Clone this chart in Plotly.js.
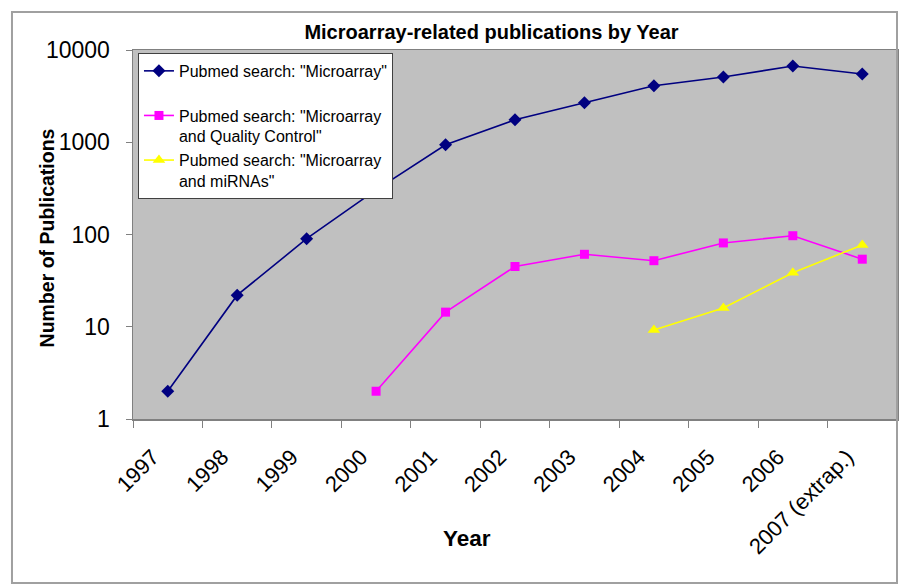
<!DOCTYPE html>
<html>
<head>
<meta charset="utf-8">
<script src="https://cdn.plot.ly/plotly-3.0.1.min.js"></script>
<style>
  html, body { margin: 0; padding: 0; background: #ffffff; }
  #chart { width: 906px; height: 588px; }
</style>
</head>
<body>
<div id="chart"></div>
<script>
// ---- Data ----
const years = ['1997', '1998', '1999', '2000', '2001', '2002', '2003', '2004', '2005', '2006', '2007 (extrap.)'];
const microarray = [2, 22, 90, 305, 940, 1750, 2680, 4100, 5100, 6700, 5500];
const qcYears = ['2000', '2001', '2002', '2003', '2004', '2005', '2006', '2007 (extrap.)'];
const qualityControl = [2, 14.4, 45, 61, 52, 81, 97, 54];
const mirnaYears = ['2004', '2005', '2006', '2007 (extrap.)'];
const mirnas = [9.2, 16, 38.5, 77];
const yTickVals = [1, 10, 100, 1000, 10000];
const yTickText = ['1', '10', '100', '1000', '10000'];

const FONT = 'Arial, "Liberation Sans", sans-serif';

const traces = [
  {
    x: years, y: microarray, type: 'scatter', mode: 'lines+markers',
    name: 'Pubmed search: "Microarray"<br>\u00a0',
    line: { color: '#000080', width: 1.6 },
    marker: { symbol: 'diamond', size: 10, color: '#000080' }
  },
  {
    x: qcYears, y: qualityControl, type: 'scatter', mode: 'lines+markers',
    name: 'Pubmed search: "Microarray<br>and Quality Control"',
    line: { color: '#FF00FF', width: 1.6 },
    marker: { symbol: 'square', size: 9, color: '#FF00FF' }
  },
  {
    x: mirnaYears, y: mirnas, type: 'scatter', mode: 'lines+markers',
    name: 'Pubmed search: "Microarray<br>and miRNAs"',
    line: { color: '#FFFF00', width: 1.6 },
    marker: { symbol: 'triangle-up', size: 11, color: '#FFFF00' }
  }
];

const layout = {
  width: 906, height: 588,
  margin: { l: 133, r: 9, t: 50, b: 169 },
  paper_bgcolor: '#ffffff',
  plot_bgcolor: '#C0C0C0',
  font: { family: FONT, color: '#000000' },
  title: {
    text: 'Microarray-related publications by Year',
    font: { family: FONT, size: 20, weight: 'bold', color: '#000000' },
    x: 0.5425, xanchor: 'center', xref: 'container',
    y: 0.946, yanchor: 'middle', yref: 'container'
  },
  xaxis: {
    type: 'category',
    range: [-0.5, 10.5],
    tickson: 'boundaries',
    ticks: 'outside', ticklen: 7, tickcolor: '#808080', tickwidth: 1,
    tickangle: -45,
    tickfont: { family: FONT, size: 22, color: '#000000' },
    ticklabelstandoff: 15,
    ticklabelshift: -15,
    showgrid: false, zeroline: false,
    showline: true, linecolor: '#808080', linewidth: 1.5, mirror: true
  },
  yaxis: {
    type: 'log',
    range: [0, 4],
    tickvals: yTickVals, ticktext: yTickText,
    ticks: 'outside', ticklen: 6, tickcolor: '#808080', tickwidth: 1,
    tickfont: { family: FONT, size: 23, color: '#000000' },
    ticklabelstandoff: 11,
    showgrid: false, zeroline: false,
    showline: true, linecolor: '#808080', linewidth: 1.5, mirror: true
  },
  legend: {
    x: 0.0065, y: 0.992, xanchor: 'left', yanchor: 'top',
    bgcolor: '#ffffff', bordercolor: '#404040', borderwidth: 1,
    font: { family: FONT, size: 16, color: '#000000' },
    valign: 'top',
    tracegroupgap: 0
  },
  showlegend: true,
  annotations: [
    {
      text: 'Year', xref: 'paper', yref: 'paper',
      x: 0.437, y: -0.324, xanchor: 'center', yanchor: 'middle',
      showarrow: false,
      font: { family: FONT, size: 22.5, weight: 'bold', color: '#000000' }
    },
    {
      text: 'Number of Publications', xref: 'paper', yref: 'paper',
      x: -0.1126, y: 0.492, xanchor: 'center', yanchor: 'middle',
      textangle: -90, showarrow: false,
      font: { family: FONT, size: 19.5, weight: 'bold', color: '#000000' }
    }
  ],
  shapes: [
    {
      type: 'rect', xref: 'paper', yref: 'paper',
      x0: -0.1584, x1: 1.0, y0: -0.4444, y1: 1.103,
      line: { color: '#A0A0A0', width: 2 }, fillcolor: 'rgba(0,0,0,0)'
    }
  ]
};

Plotly.newPlot('chart', traces, layout, { displayModeBar: false, staticPlot: true });
</script>
</body>
</html>
